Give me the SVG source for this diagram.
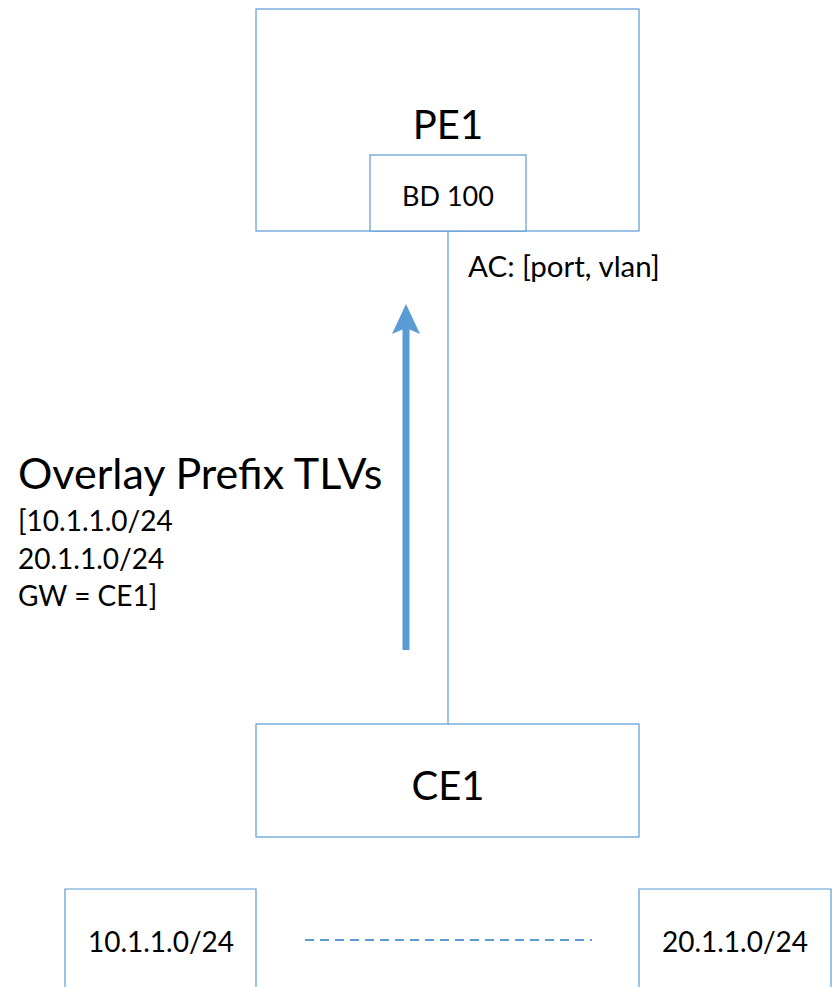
<svg xmlns="http://www.w3.org/2000/svg" width="834" height="987" viewBox="0 0 834 987">
<style>
.box{fill:#fff;stroke:#5b9bd5;stroke-width:1.2}
.t{font-family:Lato,"Liberation Sans",sans-serif;fill:#000}
.big{font-size:40px}
.med{font-size:28px}
</style>
<g id="connectors">
<line x1="448" y1="231" x2="448" y2="724" stroke="#5b9bd5" stroke-width="1.2"/>
<path d="M406,650 L406,328" stroke="#5b9bd5" stroke-width="7" fill="none"/>
<path d="M392,334 L406,304 L420,334 L406,328 Z" fill="#5b9bd5"/>
<line x1="305" y1="940" x2="592" y2="940" stroke="#5b9bd5" stroke-width="2.2" stroke-dasharray="9,6"/>
</g>
<g id="PE1">
<rect class="box" x="256" y="9" width="383" height="222"/>
<text class="t big" x="448" y="139" text-anchor="middle">PE1</text>
</g>
<g id="BD100">
<rect class="box" x="370" y="155" width="156" height="76"/>
<text class="t" font-size="27" x="448" y="206" text-anchor="middle">BD 100</text>
</g>
<g id="AC">
<text class="t" font-size="29.5" x="468" y="277">AC: [port, vlan]</text>
</g>
<g id="TLV">
<text class="t" font-size="43" x="18" y="489">Overlay Prefix TLVs</text>
<text class="t med" x="18" y="531">[10.1.1.0/24</text>
<text class="t med" x="18" y="569">20.1.1.0/24</text>
<text class="t med" x="18" y="606">GW = CE1]</text>
</g>
<g id="CE1">
<rect class="box" x="256" y="724" width="383" height="113"/>
<text class="t big" x="448" y="800" text-anchor="middle">CE1</text>
</g>
<g id="net10">
<path class="box" d="M65,995 L65,889 L256,889 L256,995" fill="none"/>
<text class="t med" x="161" y="952" text-anchor="middle">10.1.1.0/24</text>
</g>
<g id="net20">
<path class="box" d="M639,995 L639,889 L831,889 L831,995" fill="none"/>
<text class="t med" x="735" y="952" text-anchor="middle">20.1.1.0/24</text>
</g>
</svg>
